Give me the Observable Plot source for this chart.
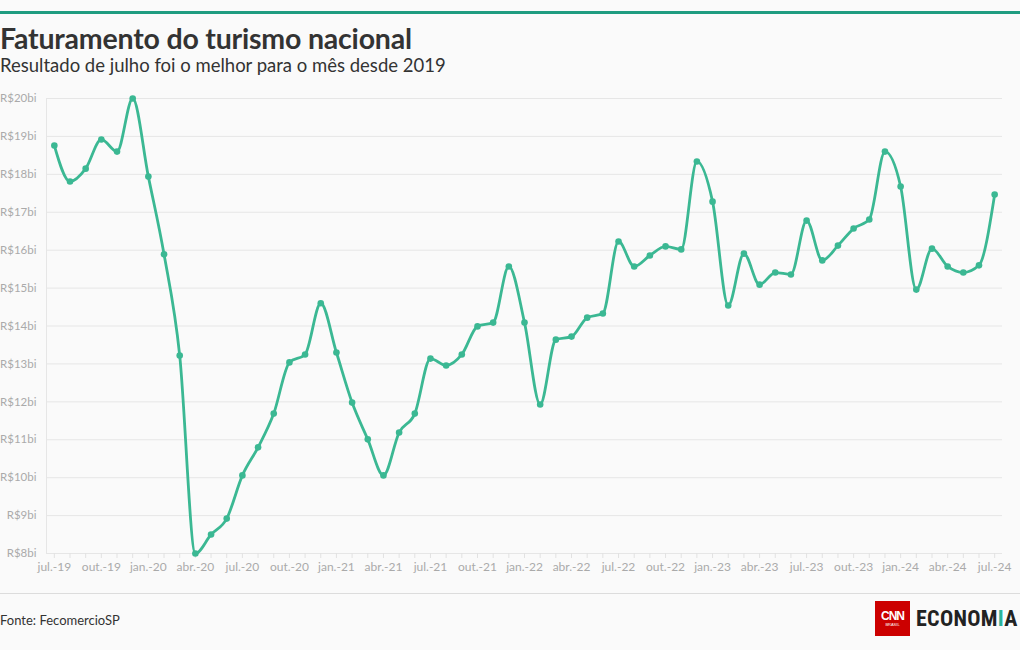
<!DOCTYPE html>
<html>
<head>
<meta charset="utf-8">
<script src="https://cdn.jsdelivr.net/npm/d3@7"></script>
<script src="https://cdn.jsdelivr.net/npm/@observablehq/plot@0.6"></script>
<style>
  html, body { margin:0; padding:0; background:#fafafa; width:1020px; height:650px; overflow:hidden; font-family: Lato, "Open Sans", sans-serif; }
  #topbar { position:absolute; left:0; top:11px; width:1020px; height:3px; background:#1f9c80; }
  #title { position:absolute; left:0; top:21px; font-size:28.5px; font-weight:700; color:#333; letter-spacing:-0.2px; }
  #subtitle { position:absolute; left:0; top:54px; font-size:18.5px; color:#333; }
  #chart { position:absolute; left:0; top:80px; }
  #sep { position:absolute; left:0; top:593px; width:1020px; height:1px; background:#dcdcdc; }
  #source { position:absolute; left:0; top:612px; font-size:13px; color:#333; }
  #logo { position:absolute; left:875px; top:601px; height:35px; display:flex; align-items:center; }
  #cnn { width:35px; height:35px; background:#cc0000; color:#fff; display:flex; flex-direction:column; align-items:center; justify-content:center; font-family:"Liberation Sans", sans-serif; }
  #cnn .a { font-size:12px; font-weight:700; letter-spacing:-1px; line-height:12px; }
  #cnn .b { font-size:4px; line-height:6px; }
  #eco { margin-left:6px; font-family:"Liberation Sans Narrow","Roboto Condensed","Roboto",sans-serif; font-size:22px; font-weight:700; color:#222; letter-spacing:0.3px; }
  #eco span { color:#2bb39a; }
</style>
</head>
<body>
<div id="topbar"></div>
<div id="title">Faturamento do turismo nacional</div>
<div id="subtitle">Resultado de julho foi o melhor para o mês desde 2019</div>
<div id="chart"></div>
<div id="sep"></div>
<div id="source">Fonte: FecomercioSP</div>
<div id="logo"><div id="cnn"><div class="a">CNN</div><div class="b">BRASIL</div></div><div id="eco">ECONOM<span>I</span>A</div></div>
<script>
const months = ["jul.-19","ago.-19","set.-19","out.-19","nov.-19","dez.-19",
  "jan.-20","fev.-20","mar.-20","abr.-20","mai.-20","jun.-20","jul.-20","ago.-20","set.-20","out.-20","nov.-20","dez.-20",
  "jan.-21","fev.-21","mar.-21","abr.-21","mai.-21","jun.-21","jul.-21","ago.-21","set.-21","out.-21","nov.-21","dez.-21",
  "jan.-22","fev.-22","mar.-22","abr.-22","mai.-22","jun.-22","jul.-22","ago.-22","set.-22","out.-22","nov.-22","dez.-22",
  "jan.-23","fev.-23","mar.-23","abr.-23","mai.-23","jun.-23","jul.-23","ago.-23","set.-23","out.-23","nov.-23","dez.-23",
  "jan.-24","fev.-24","mar.-24","abr.-24","mai.-24","jun.-24","jul.-24"];
const faturamento = [18.76,17.81,18.15,18.92,18.60,20.00,
  17.94,15.89,13.22,8.00,8.50,8.92,10.06,10.80,11.69,13.04,13.25,14.60,
  13.30,11.98,11.01,10.06,11.19,11.69,13.14,12.96,13.25,13.99,14.09,15.57,
  14.09,11.93,13.64,13.72,14.22,14.33,16.23,15.57,15.86,16.10,16.02,18.34,
  17.28,14.54,15.91,15.09,15.41,15.36,16.78,15.73,16.12,16.57,16.81,18.60,
  17.68,14.96,16.04,15.57,15.41,15.60,17.47];
const yTicks = [8,9,10,11,12,13,14,15,16,17,18,19,20];
const labelEvery = 3;

const data = months.map((m, i) => ({i, m, v: faturamento[i]}));
const allIdx = months.map((_, i) => i);
const labelIdx = allIdx.filter(i => i % labelEvery === 0);

const color = "#3bb893";
const chart = Plot.plot({
  width: 1020,
  height: 500,
  marginLeft: 46,
  marginRight: 18,
  marginTop: 18,
  marginBottom: 27,
  style: {background: "transparent", fontFamily: "Lato, 'Open Sans', sans-serif"},
  x: {type: "linear", domain: [-0.5, months.length - 0.5], axis: null, label: null},
  y: {type: "linear", domain: [8, 20], axis: null, label: null},
  marks: [
    Plot.gridY(yTicks, {stroke: "#e6e6e6", strokeOpacity: 1, strokeWidth: 1}),
    Plot.gridX([-0.5], {stroke: "#e6e6e6", strokeOpacity: 1, strokeWidth: 1}),
    Plot.axisY(yTicks, {tickSize: 0, tickPadding: 10, fontSize: 11.5, fill: "#aaa", tickFormat: d => `R$${d}bi`, label: null}),
    Plot.axisX(allIdx, {tickSize: 5, text: null, stroke: "#e2e2e2", label: null}),
    Plot.axisX(labelIdx, {tickSize: 0, tickPadding: 9, fill: "#aaa", fontSize: 12, tickFormat: i => months[i], label: null}),
    Plot.line(data, {x: "i", y: "v", stroke: color, strokeWidth: 2.8, curve: "monotone-x"}),
    Plot.dot(data, {x: "i", y: "v", fill: color, r: 3.3})
  ]
});
document.getElementById("chart").appendChild(chart);
</script>
</body>
</html>
